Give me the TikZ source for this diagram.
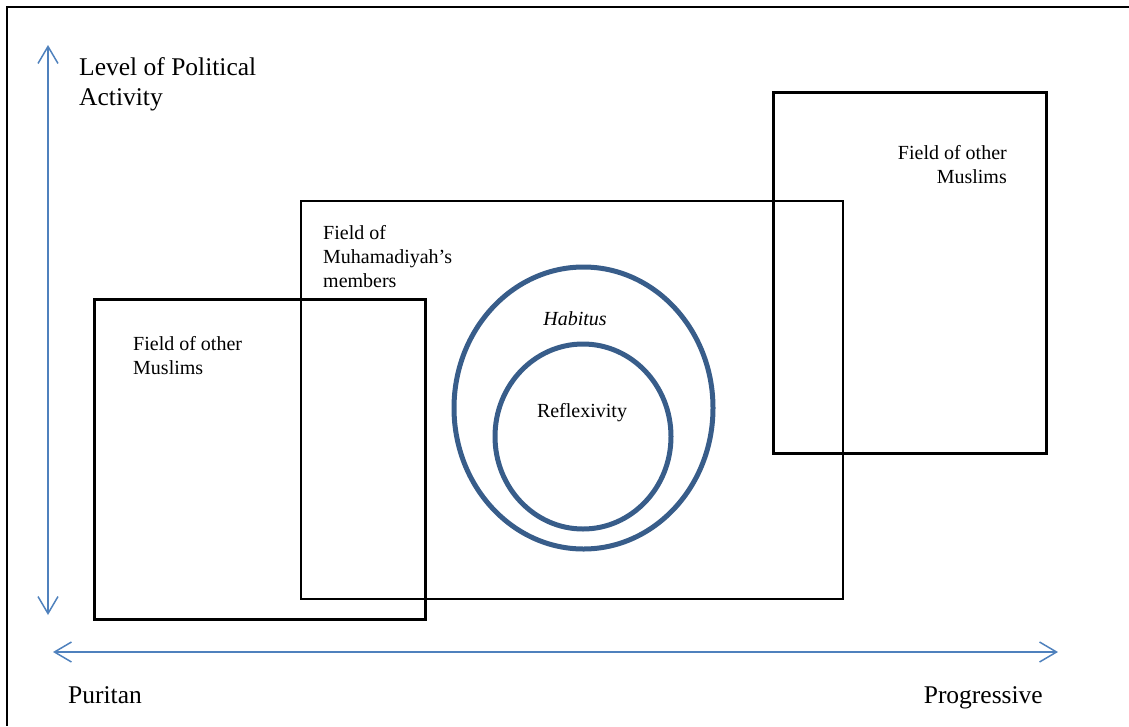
\documentclass[tikz,border=0pt]{standalone}
\usepackage{fontspec}
\setmainfont{Liberation Serif}
\usetikzlibrary{arrows.meta}
\definecolor{axisblue}{RGB}{79,129,189}
\definecolor{ringblue}{RGB}{56,93,138}
\tikzset{
  axis/.style={draw=axisblue, line width=1.5pt, {Straight Barb[length=17pt,width=20pt]}-{Straight Barb[length=17pt,width=20pt]}},
  fieldbox/.style={draw=black, fill=none, inner sep=0pt, anchor=north west},
  ring/.style={draw=ringblue, line width=5pt},
  big/.style={font=\fontsize{25.5}{30}\selectfont, inner sep=0pt},
  small/.style={font=\fontsize{20}{24}\selectfont, inner sep=0pt},
}
\begin{document}
\begin{tikzpicture}[x=1pt,y=-1pt]
\useasboundingbox (0,0) rectangle (1129,726);
% frame
\coordinate (fr1) at (1129,7);
\coordinate (fr2) at (7,7);
\coordinate (fr3) at (7,726);
\draw[line width=2pt] (fr1) -- (fr2) -- (fr3);
% axes
\coordinate (ytop) at (48,45);
\coordinate (ybot) at (48,615);
\coordinate (xl) at (53,652);
\coordinate (xr) at (1058,652);
\draw[axis] (ybot) -- (ytop);
\draw[axis] (xl) -- (xr);
% axis labels (base anchor = last line's baseline)
\node[big, anchor=base west, align=left] (lvl) at (79,105) {Level of Political\\Activity};
\node[big, anchor=base west] (pur) at (68,703) {Puritan};
\node[big, anchor=base east] (prog) at (1043,703) {Progressive};
% fields
\node[fieldbox, line width=1.8pt, minimum width=542pt, minimum height=398pt] (fieldM) at (300,200) {};
\node[fieldbox, line width=2.6pt, minimum width=331pt, minimum height=320pt] (fieldL) at (93,298) {};
\node[fieldbox, line width=2.6pt, minimum width=273pt, minimum height=361pt] (fieldR) at (772,91) {};
\node[small, anchor=base west, align=left] (tM) at (323,287) {Field of\\Muhamadiyah’s\\members};
\node[small, anchor=base west, align=left] (tL) at (133,374) {Field of other\\Muslims};
\node[small, anchor=base east, align=right] (tR) at (1007,183) {Field of other\\Muslims};
% habitus / reflexivity
\coordinate (hc) at (583.5,408);
\coordinate (rc) at (583,436.5);
\draw[ring] (hc) ellipse [x radius=129.5, y radius=141];
\draw[ring] (rc) ellipse [x radius=88, y radius=92.5];
\node[small, anchor=base, font=\fontsize{20}{24}\selectfont\itshape] (hab) at (575,325) {Habitus};
\node[small, anchor=base] (refl) at (582,417) {Reflexivity};
\end{tikzpicture}
\end{document}
